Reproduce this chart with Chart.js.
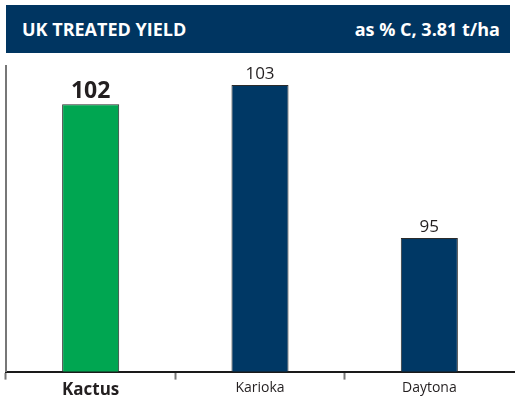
<!DOCTYPE html>
<html>
<head>
<meta charset="utf-8">
<script src="https://cdn.jsdelivr.net/npm/chart.js@4/dist/chart.umd.min.js"></script>
<style>
  html, body { margin: 0; padding: 0; background: #fff; }
  #wrap { position: relative; width: 515px; height: 400px; }
  #hdr { position: absolute; left: 6px; top: 5px; width: 504px; height: 48px; background: #003561;
         color: #fff; font-family: "Open Sans", sans-serif; font-weight: bold; font-size: 18px;
         display: flex; align-items: center; justify-content: space-between; box-sizing: border-box;
         padding: 0 10px 0 16px; letter-spacing: 0px; }
  canvas { position: absolute; left: 0; top: 0; }
</style>
</head>
<body>
<div id="wrap">
  <canvas id="c" width="515" height="400"></canvas>
  <div id="hdr"><span>UK TREATED YIELD</span><span>as % C, 3.81 t/ha</span></div>
</div>
<script>
const categories = ["Kactus", "Karioka", "Daytona"];
const yieldValues = [102, 103, 95];
const barColors = ["#00a651", "#003865", "#003865"];
const highlightIndex = 0;

const valueLabels = {
  id: 'valueLabels',
  afterDatasetsDraw(chart) {
    const ctx = chart.ctx;
    const meta = chart.getDatasetMeta(0);
    ctx.save();
    ctx.textAlign = 'center';
    ctx.textBaseline = 'bottom';
    meta.data.forEach((bar, i) => {
      const hl = i === highlightIndex;
      ctx.font = (hl ? 'bold 23px' : '17px') + ' "Open Sans", sans-serif';
      ctx.fillStyle = '#231f20';
      ctx.fillText(String(yieldValues[i]), bar.x, bar.y - (hl ? 1 : 2));
    });
    ctx.restore();
  }
};

new Chart(document.getElementById('c'), {
  type: 'bar',
  data: {
    labels: categories,
    datasets: [{
      data: yieldValues,
      backgroundColor: barColors,
      borderColor: '#2b2b2b',
      borderWidth: 1,
      barPercentage: 0.337,
      categoryPercentage: 1
    }]
  },
  options: {
    responsive: false,
    animation: false,
    layout: { padding: { top: 66, left: 6, right: 1, bottom: 0 } },
    plugins: { legend: { display: false }, tooltip: { enabled: false } },
    scales: {
      x: {
        offset: true,
        border: { display: true, color: '#1a1a1a', width: 2 },
        grid: {
          offset: true,
          drawOnChartArea: false,
          drawTicks: true,
          tickLength: 8,
          tickWidth: 2,
          tickColor: (ctx) => ctx.type === 'tick' ? '#777' : 'rgba(0,0,0,0)'
        },
        ticks: {
          color: '#231f20',
          padding: 0,
          font: (ctx) => ctx.index === highlightIndex
            ? { family: '"Open Sans", sans-serif', size: 17, weight: 'bold' }
            : { family: '"Open Sans", sans-serif', size: 14, weight: 'normal' }
        }
      },
      y: {
        min: 88,
        max: 104,
        border: { display: true, color: '#777', width: 2 },
        grid: { display: false },
        ticks: { display: false },
        afterFit(scale) { scale.width = 0; }
      }
    }
  },
  plugins: [valueLabels]
});
</script>
</body>
</html>
